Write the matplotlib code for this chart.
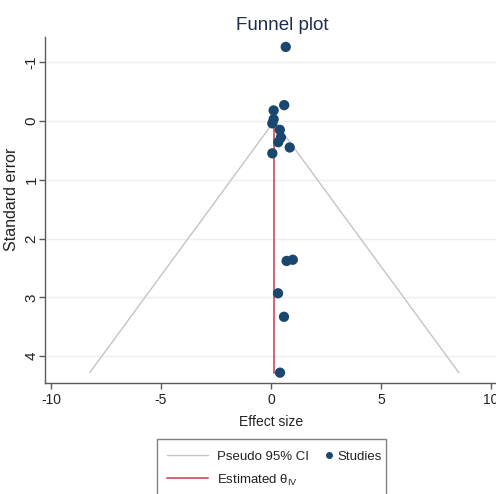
import matplotlib
matplotlib.use("Agg")
import matplotlib.pyplot as plt
from matplotlib.lines import Line2D
from matplotlib.patches import Rectangle

# Study estimates and their standard errors
effect_size = [0.67, 0.60, 0.12, 0.12, 0.06, 0.40, 0.45, 0.33, 0.85, 0.06,
               0.71, 0.99, 0.32, 0.59, 0.41]
std_error = [-1.26, -0.27, -0.18, -0.03, 0.04, 0.15, 0.28, 0.36, 0.45, 0.55,
             2.38, 2.36, 2.93, 3.33, 4.28]
theta_iv = 0.15
x_ticks = [-10, -5, 0, 5, 10]
y_ticks = [-1, 0, 1, 2, 3, 4]
legend_labels = ["Pseudo 95% CI", r"Estimated θ$_{\mathregular{IV}}$", "Studies"]

plt.rcParams["font.family"] = ["Liberation Sans", "DejaVu Sans"]
plt.rcParams["mathtext.fontset"] = "custom"
plt.rcParams["mathtext.rm"] = "Liberation Sans"
plt.rcParams["mathtext.it"] = "Liberation Sans:italic"

NAVY = "#1a476f"
CRANBERRY = "#c8394f"
CI_GRAY = "#c4c4c4"
AXIS_GRAY = "#5a5a5a"
TEXT = "#222222"

fig = plt.figure(figsize=(4.96, 4.94), dpi=100)
W, H = 496, 494
ax = fig.add_axes([45 / W, (H - 383) / H, 453 / W, 346 / H])

# Pseudo 95% confidence limits around the pooled estimate
se_max = max(std_error)
ci_x = [theta_iv - 1.96 * se_max, theta_iv, theta_iv + 1.96 * se_max]
ci_y = [se_max, 0, se_max]
ax.plot(ci_x, ci_y, color=CI_GRAY, lw=1.0, zorder=2)
ax.plot([theta_iv, theta_iv], [0, se_max], color=CRANBERRY, lw=1.1, zorder=3)
ax.scatter(effect_size, std_error, s=55, color=NAVY, edgecolor="none", zorder=4)

ax.set_xlim(-10.273, 10.318)
ax.set_ylim(4.456, -1.429)
ax.set_xticks(x_ticks)
ax.set_yticks(y_ticks)
ax.set_xticklabels([str(t) for t in x_ticks], fontsize=10)
ax.set_yticklabels([str(t) for t in y_ticks], fontsize=11, rotation=90,
                   va="center")
ax.yaxis.grid(True, color="#eeeeee", lw=1.0)
ax.set_axisbelow(True)

for side in ("top", "right"):
    ax.spines[side].set_visible(False)
for side in ("left", "bottom"):
    ax.spines[side].set_color(AXIS_GRAY)
    ax.spines[side].set_linewidth(1.0)
ax.tick_params(axis="both", colors=AXIS_GRAY, length=4, width=1.0,
               labelcolor=TEXT)
ax.tick_params(axis="y", pad=0.5)
ax.tick_params(axis="x", pad=3)

ax.set_xlabel("Effect size", fontsize=10, color=TEXT, labelpad=6)
ax.set_ylabel("Standard error", fontsize=11.5, color=TEXT, va="center")
ax.yaxis.set_label_coords((12 - 45) / 453, (383 - 199) / 346)

fig.text(282 / W, 1 - 30 / H, "Funnel plot", ha="center", va="baseline",
         fontsize=13.5, color="#1e2d4d")

# Legend box below the plot area
def fx(px):
    return px / W

def fy(py):
    return 1 - py / H

fig.add_artist(Rectangle((fx(157), fy(500)), fx(386) - fx(157), fy(439) - fy(500),
                         transform=fig.transFigure, facecolor="white",
                         edgecolor="#808080", lw=1.0, clip_on=False))
row_y = [455, 478]
fig.add_artist(Line2D([fx(167), fx(208)], [fy(row_y[0])] * 2, color=CI_GRAY,
                      lw=1.0, transform=fig.transFigure))
fig.add_artist(Line2D([fx(167), fx(208)], [fy(row_y[1])] * 2, color=CRANBERRY,
                      lw=1.1, transform=fig.transFigure))
fig.add_artist(Line2D([fx(329)], [fy(row_y[0])], ls="none", marker="o",
                      markersize=5, color=NAVY, markeredgecolor="none",
                      transform=fig.transFigure))
fig.text(fx(217), fy(row_y[0]), legend_labels[0], fontsize=9.5, color=TEXT,
         ha="left", va="center_baseline")
fig.text(fx(217), fy(row_y[1]), legend_labels[1], fontsize=9.5, color=TEXT,
         ha="left", va="center_baseline")
fig.text(fx(337), fy(row_y[0]), legend_labels[2], fontsize=9.5, color=TEXT,
         ha="left", va="center_baseline")

fig.savefig("out.png", dpi=100)
